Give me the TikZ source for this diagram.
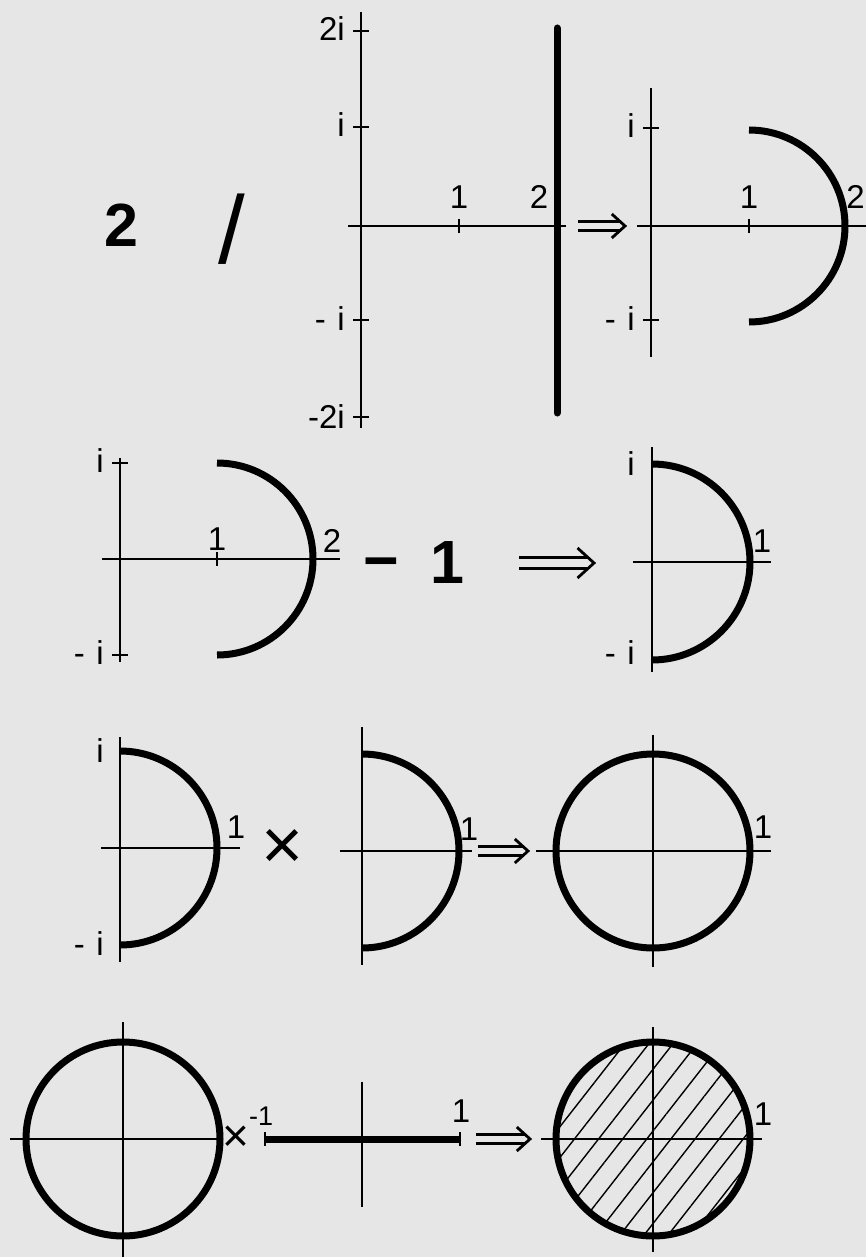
\documentclass[tikz,border=0pt]{standalone}
\usepackage{fontspec}
\setmainfont{Liberation Sans}
\usetikzlibrary{patterns.meta}
\definecolor{paper}{RGB}{230,230,230}
\tikzset{
  ax/.style={line width=2.8pt, line cap=butt},
  cv/.style={line width=7pt},
  lbl/.style={font=\fontsize{33}{33}\selectfont, inner sep=0pt, anchor=base},
  lble/.style={lbl, anchor=base east},
  bigtxt/.style={font=\fontsize{61}{61}\selectfont\bfseries, inner sep=0pt},
  implstyle/.style={line width=2.8pt, line join=miter},
}
% \impl{x1}{x2}{y}{half gap}{chevron half height}
\newcommand\impl[5]{%
  \draw[implstyle] (#1,#3-#4) -- (#2-1.1*#4,#3-#4) (#1,#3+#4) -- (#2-1.1*#4,#3+#4);
  \draw[implstyle] (#2-1.1*#5,#3-#5) -- (#2,#3) -- (#2-1.1*#5,#3+#5);
}
\begin{document}
\begin{tikzpicture}[x=1pt,y=1pt]
\fill[paper] (0,-1257) rectangle (866,0);
\useasboundingbox (0,-1257) rectangle (866,0);

% ---------------- Row 1 ----------------
\node[bigtxt] (two) at (121,-225) {2};
\node[inner sep=0pt, font=\fontsize{96}{96}\selectfont] (slash) at (232,-229) {/};

% plane A
\draw[ax] (361,-12) -- (361,-428);
\draw[ax] (348,-226) -- (566,-226);
\foreach \yy in {-31,-127,-320,-417} \draw[ax] (353,\yy) -- (369,\yy);
\draw[ax] (459,-219) -- (459,-233);
\draw[line width=7pt, line cap=round] (557,-28) -- (557,-413);
\node[lble] (a2i) at (345,-41) {2i};
\node[lble] (ai) at (345,-137) {i};
\node[lble] (ami) at (345,-330) {-\hspace{0.35em}i};
\node[lble] (am2i) at (345,-428) {-2i};
\node[lbl] (a1) at (459,-209) {1};
\node[lbl] (a2) at (539,-209) {2};

\impl{578}{625}{-226}{4.5}{12}

% plane B
\draw[ax] (651,-88) -- (651,-357);
\draw[ax] (637,-226) -- (880,-226);
\foreach \yy in {-128,-320} \draw[ax] (643,\yy) -- (659,\yy);
\draw[ax] (749,-219) -- (749,-233);
\draw[cv] (749,-130) arc[start angle=90, end angle=-90, radius=96];
\node[lble] (bi) at (635,-138) {i};
\node[lble] (bmi) at (635,-330) {-\hspace{0.35em}i};
\node[lbl] (b1) at (749,-209) {1};
\node[lbl, anchor=base east] (b2) at (865,-209) {2};

% ---------------- Row 2 ----------------
% plane C
\draw[ax] (120,-458) -- (120,-662);
\draw[ax] (102,-559) -- (340,-559);
\foreach \yy in {-463,-655} \draw[ax] (112,\yy) -- (128,\yy);
\draw[ax] (217,-552) -- (217,-566);
\draw[cv] (217,-463) arc[start angle=90, end angle=-90, radius=96];
\node[lble] (ci) at (104,-472) {i};
\node[lble] (cmi) at (104,-664) {-\hspace{0.35em}i};
\node[lbl] (c1) at (217,-550) {1};
\node[lbl] (c2) at (332,-552) {2};

\node[bigtxt, anchor=base] (minus) at (381,-581) {−};
\node[bigtxt, anchor=base] (one) at (447,-583) {1};

\impl{519}{594}{-563}{5.5}{15}

% plane D
\draw[ax] (652,-447) -- (652,-672);
\draw[ax] (633,-562) -- (771,-562);
\draw[cv] (652,-464) arc[start angle=90, end angle=-90, radius=98];
\node[lble] (di) at (635,-475) {i};
\node[lble] (dmi) at (635,-664) {-\hspace{0.35em}i};
\node[lbl] (d1) at (762,-552) {1};

% ---------------- Row 3 ----------------
% plane E
\draw[ax] (120,-737) -- (120,-962);
\draw[ax] (101,-848) -- (240,-848);
\draw[cv] (120,-751) arc[start angle=90, end angle=-90, radius=97];
\node[lble] (ei) at (104,-762) {i};
\node[lble] (emi) at (104,-955) {-\hspace{0.35em}i};
\node[lbl] (e1) at (236,-838) {1};

\node[inner sep=0pt, font=\fontsize{72}{72}\selectfont] (times) at (283,-849) {×};

% plane F
\draw[ax] (362,-727) -- (362,-965);
\draw[ax] (340,-851) -- (472,-851);
\draw[cv] (362,-754) arc[start angle=90, end angle=-90, radius=97];
\node[lbl] (f1) at (469,-840) {1};

\impl{478}{528}{-851}{4.5}{12}

% plane G
\draw[ax] (653,-735) -- (653,-967);
\draw[ax] (536,-851) -- (771,-851);
\draw[cv] (653,-851) circle[radius=97];
\node[lbl] (g1) at (763,-838) {1};

% ---------------- Row 4 ----------------
% plane H
\draw[ax] (123,-1022) -- (123,-1257);
\draw[ax] (10,-1139) -- (220,-1139);
\draw[cv] (123,-1139) circle[radius=97];

\node[inner sep=0pt, font=\fontsize{46}{46}\selectfont] (times2) at (236,-1139) {×};
\node[lbl, anchor=base west, font=\fontsize{27}{27}\selectfont] (im1) at (249,-1125) {-1};

% plane I
\draw[ax] (362,-1082) -- (362,-1207);
\draw[line width=7pt, line cap=butt] (265,-1139) -- (460,-1139);
\draw[ax] (265,-1132) -- (265,-1146);
\draw[ax] (460,-1132) -- (460,-1146);
\node[lbl] (i1) at (461,-1122) {1};

\impl{476}{530}{-1139}{4.5}{12}

% plane J
\fill[pattern={Lines[angle=52,distance=19pt,line width=1.4pt]}] (653,-1139) circle[radius=97];
\draw[ax] (653,-1027) -- (653,-1252);
\draw[ax] (541,-1139) -- (762,-1139);
\draw[cv] (653,-1139) circle[radius=97];
\node[lbl] (j1) at (763,-1125) {1};
\end{tikzpicture}
\end{document}
